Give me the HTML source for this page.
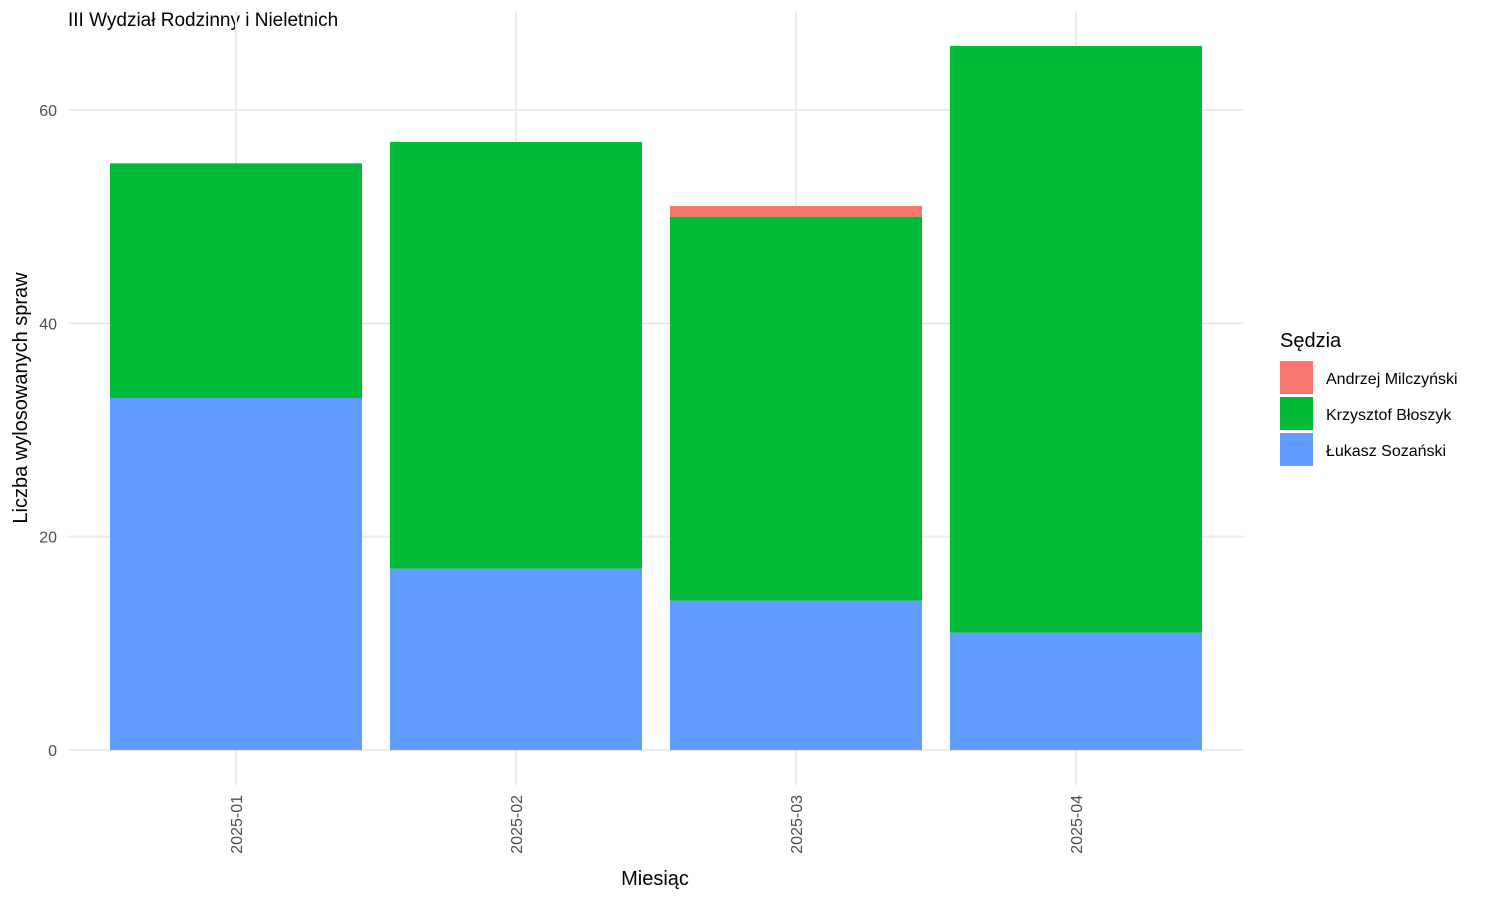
<!DOCTYPE html>
<html><head><meta charset="utf-8"><style>
body{margin:0;background:#fff;font-family:"Liberation Sans",sans-serif;}
svg text{font-family:"Liberation Sans",sans-serif;}
</style></head><body>
<svg id="chart" width="1500" height="900" xmlns="http://www.w3.org/2000/svg">
<text x="68" y="26" font-size="19" fill="#000">III Wydział Rodzinny i Nieletnich</text>
<g id="grid"></g>
<g id="bars"></g>
<g id="axes"></g>
<text x="655" y="885" font-size="20" text-anchor="middle" fill="#000">Miesiąc</text>
<text transform="translate(27,398) rotate(-90)" font-size="20" text-anchor="middle" fill="#000">Liczba wylosowanych spraw</text>
<g>
<text x="1280" y="347" font-size="20" fill="#000">Sędzia</text>
<g><rect x="1280" y="361" width="33" height="33" fill="#F8766D"/><text x="1326" y="384" font-size="16">Andrzej Milczyński</text></g>
<g><rect x="1280" y="397" width="33" height="33" fill="#00BA38"/><text x="1326" y="420" font-size="16">Krzysztof Błoszyk</text></g>
<g><rect x="1280" y="433" width="33" height="33" fill="#619CFF"/><text x="1326" y="456" font-size="16">Łukasz Sozański</text></g>
</g>
</svg>
<script>
const categories = ["2025-01","2025-02","2025-03","2025-04"];
const lukasz = [33,17,14,11];
const krzysztof = [22,40,36,55];
const andrzej = [0,0,1,0];
const yTicks = [0,20,40,60];
const NS="http://www.w3.org/2000/svg";
const y0=750, unit=640/60, band=280, x0=236-280;
function yScale(v){return y0-v*unit;}
function xScale(i){return 236+i*band;}
const grid=document.getElementById('grid'), bars=document.getElementById('bars'), axes=document.getElementById('axes');
function mk(tag,attrs,parent){const e=document.createElementNS(NS,tag);for(const k in attrs)e.setAttribute(k,attrs[k]);parent.appendChild(e);return e;}
yTicks.forEach(t=>{
  const l=mk('line',{x1:68,x2:1244,y1:yScale(t),y2:yScale(t),stroke:'#ebebeb','stroke-width':2},grid);
  
  
  const tx=mk('text',{x:57,y:yScale(t)+6,'font-size':16,'text-anchor':'end',fill:'#4d4d4d'},axes);
  tx.textContent=t;
  
  
});
categories.forEach((c,i)=>{
  const x=xScale(i);
  const l=mk('line',{x1:x,x2:x,y1:11,y2:785,stroke:'#ebebeb','stroke-width':2},grid);
  
  
  const series=[[lukasz,'#619CFF','bar-lukasz'],[krzysztof,'#00BA38','bar-krzysztof'],[andrzej,'#F8766D','bar-andrzej']];
  let base=0;
  series.forEach(([arr,col,name])=>{
    const v=arr[i]; if(v<=0) return;
    const r=mk('rect',{x:x-126,width:252,y:yScale(base+v),height:v*unit,fill:col},bars);
    
    
    base+=v;
  });
  const tx=mk('text',{transform:`translate(${x+6},795) rotate(-90)`,'font-size':16,'text-anchor':'end',fill:'#4d4d4d'},axes);
  tx.textContent=c;
  
  
});
</script>
</body></html>
